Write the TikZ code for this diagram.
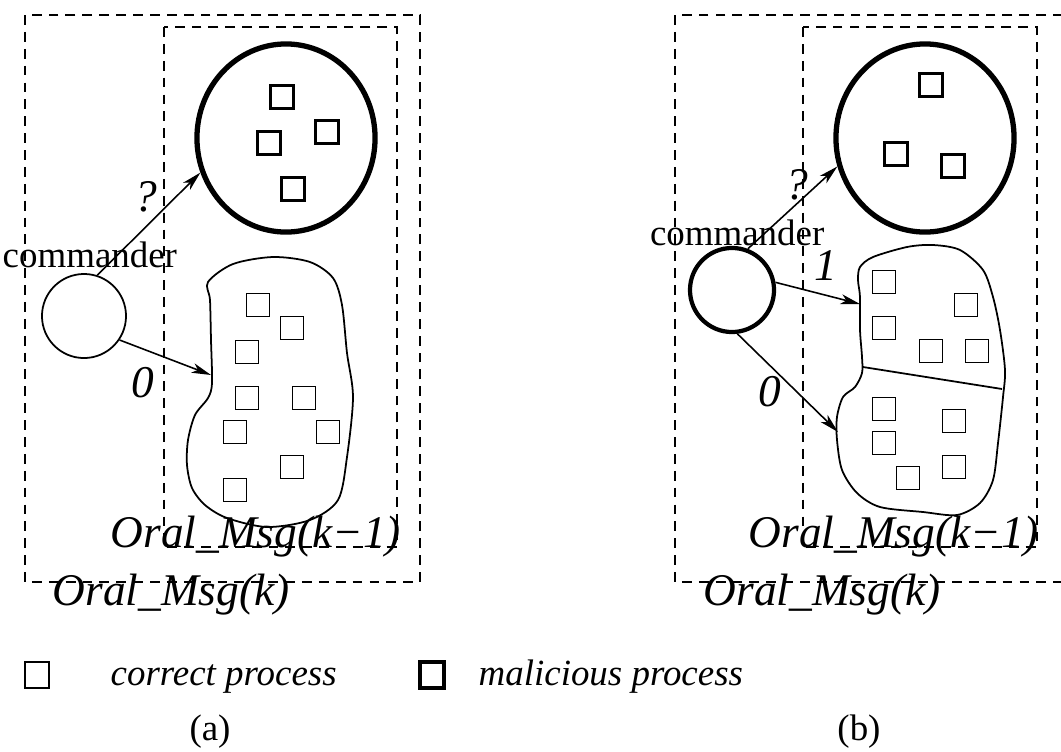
\documentclass[tikz,border=0pt]{standalone}
\usepackage{fontspec}
\setmainfont{Liberation Serif}
\usetikzlibrary{arrows.meta, shapes.geometric}

\begin{document}
\begin{tikzpicture}[x=0.01cm, y=-0.01cm, >={Stealth[length=5.5pt, width=2.8pt, inset=1.5pt]},
    box/.style={line width=0.75pt, dash pattern=on 2.8pt off 2pt},
    proc/.style={draw, line width=0.5pt, minimum size=0.23cm, inner sep=0pt},
    badproc/.style={proc, line width=1.05pt},
    group/.style={draw, ellipse, line width=1.5pt, minimum width=1.78cm, minimum height=1.88cm, inner sep=0pt},
    cmd/.style={draw, circle, line width=0.5pt, minimum size=0.84cm, inner sep=0pt},
    msg/.style={->, line width=0.45pt},
    lbl/.style={font=\fontsize{12.9}{14}\selectfont\itshape, inner sep=0pt},
    word/.style={font=\fontsize{10.5}{12}\selectfont, inner sep=0pt},
    legend/.style={font=\fontsize{10.5}{12}\selectfont\itshape, inner sep=0pt}]
    \clip (0,0) rectangle (1061,751);

    % ---------- (a) ----------
    % Rounds
    \draw[box] (25,15) rectangle (420,582);
    \draw[box] (164,27) rectangle (397,547);

    % Malicious processes
    \node[group] (badA) at (286,138) {};
    \foreach \x/\y [count=\i] in {282/97, 327/132, 269/143, 293/189}
        \node[badproc] (badA\i) at (\x,\y) {};

    % Correct processes
    \draw[line width=0.5pt] plot[smooth cycle] coordinates {(208,282) (233,264) (273,257) (310,262) (333,278)
        (342,305) (347,353) (353,397) (347,457) (338,500) (310,520) (267,527) (227,518) (205,505)
        (192,488) (187,465) (188,440) (195,415) (208,398) (212,383) (211,340) (210,300)};
    \foreach \x/\y [count=\i] in {258/305, 292/328, 247/352, 247/398, 304/398, 235/432, 328/432, 292/467, 235/490}
        \node[proc] (okA\i) at (\x,\y) {};

    % Commander
    \node[cmd] (cmdA) at (84,316) {};
    \node[word, anchor=base west] (nameA) at (2,267) {commander};

    % Messages
    \coordinate (hitA) at (211,375);
    \draw[msg] (cmdA.72) -- (badA.202);
    \draw[msg] (cmdA.-34) -- (hitA);
    \node[lbl] (qA) at (146,197) {?};
    \node[lbl] (zeroA) at (143,383) {0};

    % Round names
    \node[lbl, anchor=base west] (innerA) at (110,547) {Oral\_Msg(k−1)};
    \node[lbl, anchor=base west] (outerA) at (52,605) {Oral\_Msg(k)};

    % ---------- (b) ----------
    % Rounds
    \draw[box] (675,15) rectangle (1070,582);
    \draw[box] (803,27) rectangle (1037,547);

    % Malicious processes
    \node[group] (badB) at (925,138) {};
    \foreach \x/\y [count=\i] in {931/85, 896/154, 953/166}
        \node[badproc] (badB\i) at (\x,\y) {};

    % Correct processes, split in two
    \draw[line width=0.5pt] plot[smooth cycle] coordinates {(860,267) (873,257) (907,247) (933,245) (960,250)
        (983,270) (993,297) (1000,330) (1005,370) (1003,397) (998,443) (993,480) (980,503) (957,515)
        (923,512) (880,507) (857,493) (842,470) (837,440) (837,417) (843,397) (855,387) (862,373)
        (862,357) (860,330) (860,297) (858,280)};
    \draw[line width=0.5pt] (863,367) -- (1002,389);
    \foreach \x/\y [count=\i] in {884/282, 966/305, 884/328, 931/351, 977/351, 884/409, 954/421, 884/443, 954/467, 908/478}
        \node[proc] (okB\i) at (\x,\y) {};

    % Commander
    \node[cmd, line width=1.2pt] (cmdB) at (732,290) {};
    \node[word, anchor=base east] (nameB) at (825,245) {commander};

    % Messages
    \coordinate (hitB1) at (860,304);
    \coordinate (hitB0) at (838,432);
    \draw[msg] (cmdB.69) -- (badB.198);
    \draw[msg] (cmdB.10) -- (hitB1);
    \draw[msg] (cmdB.-83) -- (hitB0);
    \node[lbl] (qB) at (797,185) {?};
    \node[lbl] (oneB) at (826,266) {1};
    \node[lbl] (zeroB) at (770,392) {0};

    % Round names
    \node[lbl, anchor=base west] (innerB) at (748,547) {Oral\_Msg(k−1)};
    \node[lbl, anchor=base west] (outerB) at (703,605) {Oral\_Msg(k)};

    % ---------- Legend ----------
    \node[proc, minimum width=0.24cm, minimum height=0.26cm] (keyok) at (37,675) {};
    \node[legend, anchor=base west] (keyoktext) at (110,685) {correct process};
    \node[badproc, minimum width=0.24cm, minimum height=0.26cm] (keybad) at (432,675) {};
    \node[legend, anchor=base west] (keybadtext) at (478,685) {malicious process};
    \node[word] (capA) at (210,732) {(a)};
    \node[word] (capB) at (859,732) {(b)};
\end{tikzpicture}
\end{document}
